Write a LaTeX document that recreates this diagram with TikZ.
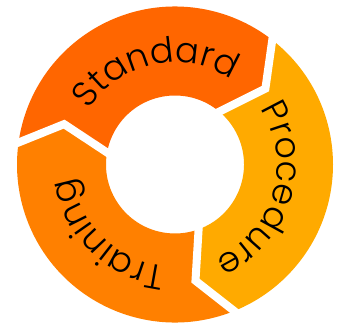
\documentclass[tikz,border=0pt]{standalone}
\usepackage{fontspec}
\setmainfont{Poppins Light}
\usetikzlibrary{decorations.text}
\definecolor{cstd}{RGB}{255,102,0}
\definecolor{ctrn}{RGB}{255,128,0}
\definecolor{cprc}{RGB}{255,170,0}
\newcommand\ringseg[3]{%
  \fill[#1] ({#3+2}:\Ro) -- ({#3-10}:\Rm) -- (#3:\Ri)
    arc[start angle=#3, end angle=#2, radius=\Ri]
    -- ({#2-10}:\Rm) -- ({#2+2}:\Ro)
    arc[start angle={#2+2}, end angle={#3+2}, radius=\Ro] -- cycle;}
\newcommand\ringgap[1]{%
  \draw[gapline] ({#1+2}:\Ro) -- ({#1-10}:\Rm) -- (#1:\Ri);}
\newcommand\ringtext[2]{%
  \path[decorate, decoration={text along path, text align=center,
    text={|\fontsize{35}{40}\selectfont|#2}}]
    ({#1+75}:\Rt) arc[start angle={#1+75}, end angle={#1-75}, radius=\Rt];}
\begin{document}
\begin{tikzpicture}[x=1pt,y=1pt,
  gapline/.style={white, line width=8, line join=miter, shorten <=-12, shorten >=-12}]
\useasboundingbox (-175,-161.5) rectangle (166,164.5);
\def\Ro{158}\def\Ri{69}\def\Rm{118}\def\Rt{102}
\ringseg{cstd}{170}{50}
\ringseg{cprc}{50}{-70}
\ringseg{ctrn}{290}{170}
\ringgap{50}
\ringgap{170}
\ringgap{290}
\ringtext{102}{Standard}
\ringtext{-17}{Procedure}
\ringtext{226}{Training}
\end{tikzpicture}
\end{document}
